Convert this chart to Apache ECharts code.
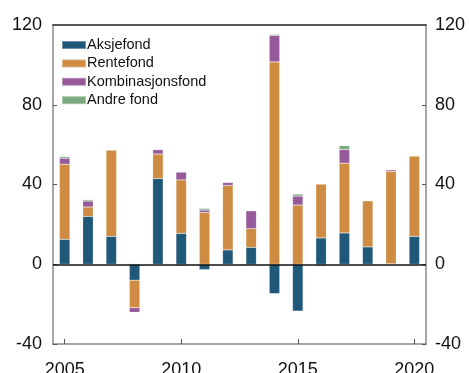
<!DOCTYPE html>
<html>
<head>
<meta charset="utf-8">
<script src="https://cdn.jsdelivr.net/npm/echarts@6/dist/echarts.min.js"></script>
<style>
  html, body { margin: 0; padding: 0; background: #fff; }
  #chart { width: 469px; height: 373px; }
</style>
</head>
<body>
<div id="chart"></div>
<script>
// Net flows per fund type, 2005–2020
const years = ['2005','2006','2007','2008','2009','2010','2011','2012','2013','2014','2015','2016','2017','2018','2019','2020'];
const aksjefond = [12.5, 24, 14, -8, 43, 15.5, -2.7, 7.2, 8.5, -14.7, -23.5, 13.2, 15.7, 8.7, 0.3, 14];
const rentefond = [37.7, 4.7, 43.3, -13.8, 12.3, 26.8, 26, 32.3, 9.3, 101.5, 29.7, 27, 35, 23.1, 46.4, 40.3];
const kombinasjonsfond = [3, 3, 0, -2.3, 2.2, 3.9, 1.2, 1.5, 9, 13.3, 4.5, -0.8, 6.8, -0.3, 0.7, 0];
const andreFond = [0.8, 0.7, 0, 0.3, 0, -0.7, 0.8, 0.3, -0.5, 0.5, 1, -0.3, 2, 0, 0, -0.3];
const yTicks = [-40, 0, 40, 80, 120];

const colors = ['#1f5878', '#cf8b41', '#965a9b', '#79a97c'];
const font = 'Liberation Sans, Arial, sans-serif';

function bar(name, data, color) {
  return {
    name, type: 'bar', stack: 'total', data,
    barWidth: 10.5,
    itemStyle: { color, borderColor: 'rgba(255,255,255,0.35)', borderWidth: 0.5 }
  };
}

const series = [
  bar('Aksjefond', aksjefond, colors[0]),
  bar('Rentefond', rentefond, colors[1]),
  bar('Kombinasjonsfond', kombinasjonsfond, colors[2]),
  bar('Andre fond', andreFond, colors[3])
];
// zero line
series[0].markLine = {
  silent: true, symbol: 'none', label: { show: false },
  lineStyle: { color: '#111', width: 1.5, type: 'solid' },
  data: [{ yAxis: 0 }]
};

const yBase = {
  type: 'value', min: yTicks[0], max: yTicks[yTicks.length - 1], interval: 40,
  splitLine: { show: false },
  axisLine: { show: true, lineStyle: { color: '#8a8a8a', width: 1.5 } },
  axisTick: { show: true, inside: true, length: 4, lineStyle: { color: '#555' } },
  axisLabel: { color: '#111', fontSize: 18, fontFamily: font }
};

const chart = echarts.init(document.getElementById('chart'), null, { renderer: 'canvas' });
chart.setOption({
  animation: false,
  backgroundColor: '#fff',
  grid: { left: 53, right: 43, top: 25, bottom: 29, containLabel: false, outerBoundsMode: 'none' },
  legend: {
    left: 56, top: 32, orient: 'vertical', itemGap: 2.4,
    itemWidth: 24, itemHeight: 8,
    icon: 'rect',
    textStyle: { color: '#111', fontSize: 14.5, lineHeight: 16, fontFamily: font, padding: [0, 0, 0, -4] },
    data: ['Aksjefond', 'Rentefond', 'Kombinasjonsfond', 'Andre fond']
  },
  xAxis: [{
    type: 'category', data: years, position: 'bottom',
    axisLine: { show: true, onZero: false, lineStyle: { color: '#8a8a8a', width: 1.5 } },
    axisTick: {
      show: true, inside: true, length: 5, alignWithLabel: true,
      interval: (i) => i % 5 === 0, lineStyle: { color: '#555' }
    },
    axisLabel: {
      color: '#111', fontSize: 18, fontFamily: font, margin: 17,
      interval: (i) => i % 5 === 0
    }
  }, {
    type: 'category', data: years, position: 'top',
    axisLine: { show: true, onZero: false, lineStyle: { color: '#222', width: 1.5 } },
    axisTick: { show: false }, axisLabel: { show: false }
  }],
  yAxis: [
    Object.assign({}, yBase, { position: 'left', axisLabel: Object.assign({}, yBase.axisLabel, { margin: 11 }) }),
    Object.assign({}, yBase, { position: 'right', axisLabel: Object.assign({}, yBase.axisLabel, { margin: 9 }) })
  ],
  series
});
</script>
</body>
</html>
